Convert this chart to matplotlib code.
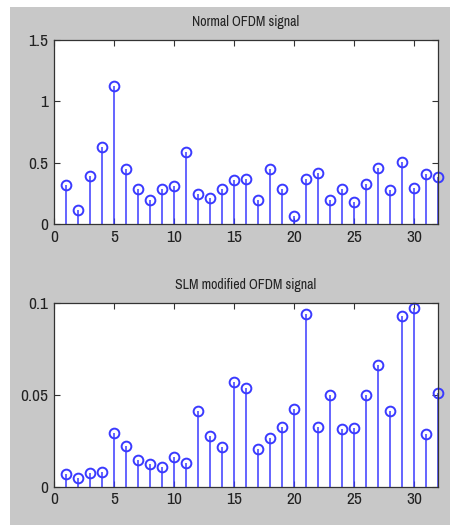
import matplotlib
matplotlib.use("Agg")
import matplotlib.pyplot as plt
from matplotlib.patches import Rectangle
import numpy as np

n = list(range(1, 33))
normal_ofdm = [0.318, 0.114, 0.394, 0.630, 1.125, 0.446, 0.285, 0.198, 0.285, 0.307,
               0.584, 0.247, 0.209, 0.285, 0.359, 0.370, 0.198, 0.446, 0.285, 0.068,
               0.370, 0.413, 0.193, 0.285, 0.179, 0.329, 0.459, 0.274, 0.503, 0.296,
               0.408, 0.383]
slm_ofdm = [0.0067, 0.0045, 0.0076, 0.0078, 0.0290, 0.0223, 0.0145, 0.0125, 0.0109, 0.0161,
            0.0127, 0.0411, 0.0275, 0.0217, 0.0569, 0.0534, 0.0203, 0.0264, 0.0322, 0.0424,
            0.0940, 0.0322, 0.0496, 0.0312, 0.0317, 0.0496, 0.0659, 0.0411, 0.0926, 0.0969,
            0.0284, 0.0511]
titles = ["Normal OFDM signal", "SLM modified OFDM signal"]
xticks = [0, 5, 10, 15, 20, 25, 30]
yticks_top = [0, 0.5, 1, 1.5]
ytick_labels_top = ["0", "0.5", "1", "1.5"]
yticks_bot = [0, 0.05, 0.1]
ytick_labels_bot = ["0", "0.05", "0.1"]

plt.rcParams['font.family'] = ['Archivo Narrow', 'Liberation Sans', 'DejaVu Sans']

fig = plt.figure(figsize=(4.5, 5.27), dpi=100, facecolor='white')
bg = Rectangle((10/450, 2/527), 440/450, 518/527, transform=fig.transFigure,
               facecolor='#c8c8c8', edgecolor='none', zorder=-10)
fig.add_artist(bg)

blue = '#3a3aff'
ax1 = fig.add_axes([54/450, (527-224)/527, 384/450, 184/527])
ax2 = fig.add_axes([54/450, (527-486.7)/527, 384/450, 184/527])

for ax, vals, title, yt, ytl, ylim in [
        (ax1, normal_ofdm, titles[0], yticks_top, ytick_labels_top, (0, 1.5)),
        (ax2, slm_ofdm, titles[1], yticks_bot, ytick_labels_bot, (0, 0.1))]:
    ax.set_facecolor('white')
    ml, sl, bl = ax.stem(n, vals, linefmt='-', markerfmt='o', basefmt=' ')
    sl.set_color(blue)
    sl.set_linewidth(1.1)
    ml.set_markerfacecolor('none')
    ml.set_markeredgecolor(blue)
    ml.set_markersize(7)
    ml.set_markeredgewidth(1.4)
    ml.set_clip_on(False)
    ax.set_xlim(0, 32)
    ax.set_ylim(*ylim)
    ax.set_xticks(xticks)
    ax.set_yticks(yt)
    ax.set_yticklabels(ytl)
    ax.tick_params(direction='in', top=True, right=True, labelsize=12.5,
                   colors='#333333', length=4, width=0.8, labelcolor='#222222', pad=4)
    for s in ax.spines.values():
        s.set_color('#333333')
        s.set_linewidth(0.9)
    ax.set_title(title, fontsize=10, color='#222222', pad=10)

fig.savefig('out.png', dpi=100, facecolor=fig.get_facecolor())
